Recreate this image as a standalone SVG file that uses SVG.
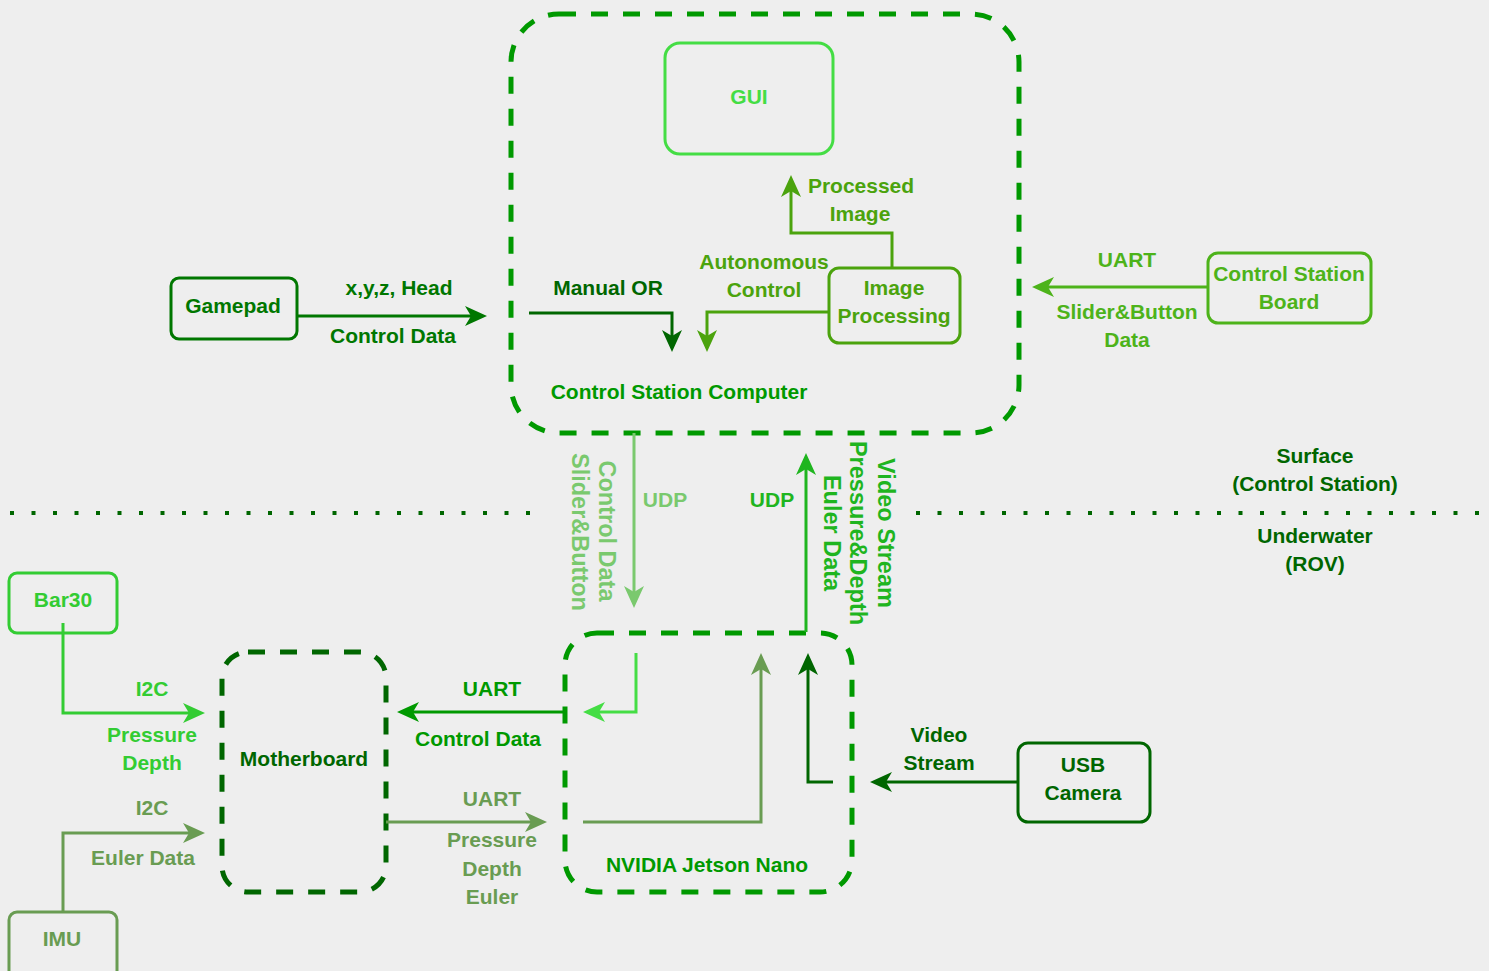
<svg xmlns="http://www.w3.org/2000/svg" width="1489" height="971" viewBox="0 0 1489 971">
<style>
text{font-family:"Liberation Sans",Arial,Helvetica,sans-serif;font-size:21px;font-weight:bold;text-anchor:middle}
text.rot{font-size:23.5px}
.box{fill:none;stroke-width:3}
.cont{fill:none;stroke-width:5;stroke-dasharray:17 15}
.c{fill:none;stroke-width:3}
.dot{fill:none;stroke:#006600;stroke-width:4;stroke-dasharray:4 17.5}
</style>
<defs>
<marker id="m006600" markerUnits="userSpaceOnUse" viewBox="0 0 22 20" markerWidth="22" markerHeight="20" refX="12" refY="10" orient="auto"><path d="M0,0 L22,10 L0,20 L6,10 Z" fill="#006600"/></marker>
<marker id="m007700" markerUnits="userSpaceOnUse" viewBox="0 0 22 20" markerWidth="22" markerHeight="20" refX="12" refY="10" orient="auto"><path d="M0,0 L22,10 L0,20 L6,10 Z" fill="#007700"/></marker>
<marker id="m4ba30d" markerUnits="userSpaceOnUse" viewBox="0 0 22 20" markerWidth="22" markerHeight="20" refX="12" refY="10" orient="auto"><path d="M0,0 L22,10 L0,20 L6,10 Z" fill="#4ba30d"/></marker>
<marker id="m4db31a" markerUnits="userSpaceOnUse" viewBox="0 0 22 20" markerWidth="22" markerHeight="20" refX="12" refY="10" orient="auto"><path d="M0,0 L22,10 L0,20 L6,10 Z" fill="#4db31a"/></marker>
<marker id="m7ac96e" markerUnits="userSpaceOnUse" viewBox="0 0 22 20" markerWidth="22" markerHeight="20" refX="12" refY="10" orient="auto"><path d="M0,0 L22,10 L0,20 L6,10 Z" fill="#7ac96e"/></marker>
<marker id="m1fb51f" markerUnits="userSpaceOnUse" viewBox="0 0 22 20" markerWidth="22" markerHeight="20" refX="12" refY="10" orient="auto"><path d="M0,0 L22,10 L0,20 L6,10 Z" fill="#1fb51f"/></marker>
<marker id="m44dd44" markerUnits="userSpaceOnUse" viewBox="0 0 22 20" markerWidth="22" markerHeight="20" refX="12" refY="10" orient="auto"><path d="M0,0 L22,10 L0,20 L6,10 Z" fill="#44dd44"/></marker>
<marker id="m009900" markerUnits="userSpaceOnUse" viewBox="0 0 22 20" markerWidth="22" markerHeight="20" refX="12" refY="10" orient="auto"><path d="M0,0 L22,10 L0,20 L6,10 Z" fill="#009900"/></marker>
<marker id="m699c52" markerUnits="userSpaceOnUse" viewBox="0 0 22 20" markerWidth="22" markerHeight="20" refX="12" refY="10" orient="auto"><path d="M0,0 L22,10 L0,20 L6,10 Z" fill="#699c52"/></marker>
<marker id="m33cc33" markerUnits="userSpaceOnUse" viewBox="0 0 22 20" markerWidth="22" markerHeight="20" refX="12" refY="10" orient="auto"><path d="M0,0 L22,10 L0,20 L6,10 Z" fill="#33cc33"/></marker>
</defs>
<rect width="1489" height="971" fill="#eeeeee"/>

<g id="divider">
<path class="dot" d="M10,513 H534"/>
<path class="dot" d="M916,513 H1482"/>
<text x="1315" y="463" fill="#006600">Surface</text>
<text x="1315" y="491" fill="#006600">(Control Station)</text>
<text x="1315" y="543" fill="#006600">Underwater</text>
<text x="1315" y="571" fill="#006600">(ROV)</text>
</g>

<g id="control-station-computer">
<rect class="cont" x="511" y="14" width="508" height="419" rx="48" stroke="#009900"/>
<text x="679" y="399" fill="#009900">Control Station Computer</text>
</g>

<g id="gui">
<rect class="box" x="665" y="43" width="168" height="111" rx="15" stroke="#44dd44"/>
<text x="749" y="104" fill="#44dd44">GUI</text>
</g>

<g id="image-processing">
<rect class="box" x="829" y="268" width="131" height="75" rx="10" stroke="#4ba30d"/>
<text x="894" y="295" fill="#4ba30d">Image</text>
<text x="894" y="323" fill="#4ba30d">Processing</text>
</g>

<g id="gamepad">
<rect class="box" x="171" y="278" width="126" height="61" rx="8" stroke="#007700"/>
<text x="233" y="313" fill="#007700">Gamepad</text>
</g>

<g id="control-station-board">
<rect class="box" x="1208" y="253" width="163" height="70" rx="10" stroke="#4db31a"/>
<text x="1289" y="281" fill="#4db31a">Control Station</text>
<text x="1289" y="309" fill="#4db31a">Board</text>
</g>

<g id="jetson">
<rect class="cont" x="565" y="633" width="287" height="259" rx="32" stroke="#009900"/>
<text x="707" y="872" fill="#009900">NVIDIA Jetson Nano</text>
</g>

<g id="motherboard">
<rect class="cont" x="222" y="652" width="164" height="240" rx="26" stroke="#006600"/>
<text x="304" y="766" fill="#006600">Motherboard</text>
</g>

<g id="usb-camera">
<rect class="box" x="1018" y="743" width="132" height="79" rx="10" stroke="#006600"/>
<text x="1083" y="772" fill="#006600">USB</text>
<text x="1083" y="800" fill="#006600">Camera</text>
</g>

<g id="bar30">
<rect class="box" x="9" y="573" width="108" height="60" rx="8" stroke="#33cc33"/>
<text x="63" y="607" fill="#33cc33">Bar30</text>
</g>

<g id="imu">
<rect class="box" x="9" y="912" width="108" height="70" rx="8" stroke="#699c52"/>
<text x="62" y="946" fill="#699c52">IMU</text>
</g>

<g id="connectors">
<path class="c" d="M297,316 H477" stroke="#007700" marker-end="url(#m007700)"/>
<text x="399" y="295" fill="#007700">x,y,z, Head</text>
<text x="393" y="343" fill="#007700">Control Data</text>

<path class="c" d="M529,313 H672 V342" stroke="#006600" marker-end="url(#m006600)"/>
<text x="608" y="295" fill="#006600">Manual OR</text>

<path class="c" d="M829,312 H707 V342" stroke="#4ba30d" marker-end="url(#m4ba30d)"/>
<text x="764" y="269" fill="#4ba30d">Autonomous</text>
<text x="764" y="297" fill="#4ba30d">Control</text>

<path class="c" d="M892,268 V233 H791 V185" stroke="#4ba30d" marker-end="url(#m4ba30d)"/>
<text x="861" y="193" fill="#4ba30d">Processed</text>
<text x="860" y="221" fill="#4ba30d">Image</text>

<path class="c" d="M1208,287 H1042" stroke="#4db31a" marker-end="url(#m4db31a)"/>
<text x="1127" y="267" fill="#4db31a">UART</text>
<text x="1127" y="319" fill="#4db31a">Slider&amp;Button</text>
<text x="1127" y="347" fill="#4db31a">Data</text>

<path class="c" d="M634,433 V598" stroke="#7ac96e" marker-end="url(#m7ac96e)"/>
<text x="665" y="507" fill="#7ac96e">UDP</text>
<text class="rot" transform="translate(599,531) rotate(90)" fill="#7ac96e">Control Data</text>
<text class="rot" transform="translate(572,532) rotate(90)" fill="#7ac96e">Slider&amp;Button</text>

<path class="c" d="M806,632 V463" stroke="#1fb51f" marker-end="url(#m1fb51f)"/>
<text x="772" y="507" fill="#1fb51f">UDP</text>
<text class="rot" transform="translate(878,533) rotate(90)" fill="#1fb51f">Video Stream</text>
<text class="rot" transform="translate(850,533) rotate(90)" fill="#1fb51f">Pressure&amp;Depth</text>
<text class="rot" transform="translate(824,533) rotate(90)" fill="#1fb51f">Euler Data</text>

<path class="c" d="M636,653 V712 H593" stroke="#44dd44" marker-end="url(#m44dd44)"/>

<path class="c" d="M565,712 H407" stroke="#009900" marker-end="url(#m009900)"/>
<text x="492" y="696" fill="#009900">UART</text>
<text x="478" y="746" fill="#009900">Control Data</text>

<path class="c" d="M386,822 H537" stroke="#699c52" marker-end="url(#m699c52)"/>
<text x="492" y="806" fill="#699c52">UART</text>
<text x="492" y="847" fill="#699c52">Pressure</text>
<text x="492" y="876" fill="#699c52">Depth</text>
<text x="492" y="904" fill="#699c52">Euler</text>

<path class="c" d="M583,822 H761 V663" stroke="#699c52" marker-end="url(#m699c52)"/>

<path class="c" d="M1018,782 H880" stroke="#006600" marker-end="url(#m006600)"/>
<text x="939" y="742" fill="#006600">Video</text>
<text x="939" y="770" fill="#006600">Stream</text>

<path class="c" d="M833,782 H808 V663" stroke="#006600" marker-end="url(#m006600)"/>

<path class="c" d="M63,623 V713 H195" stroke="#33cc33" marker-end="url(#m33cc33)"/>
<text x="152" y="696" fill="#33cc33">I2C</text>
<text x="152" y="742" fill="#33cc33">Pressure</text>
<text x="152" y="770" fill="#33cc33">Depth</text>

<path class="c" d="M63,912 V833 H195" stroke="#699c52" marker-end="url(#m699c52)"/>
<text x="152" y="815" fill="#699c52">I2C</text>
<text x="143" y="865" fill="#699c52">Euler Data</text>
</g>
</svg>
